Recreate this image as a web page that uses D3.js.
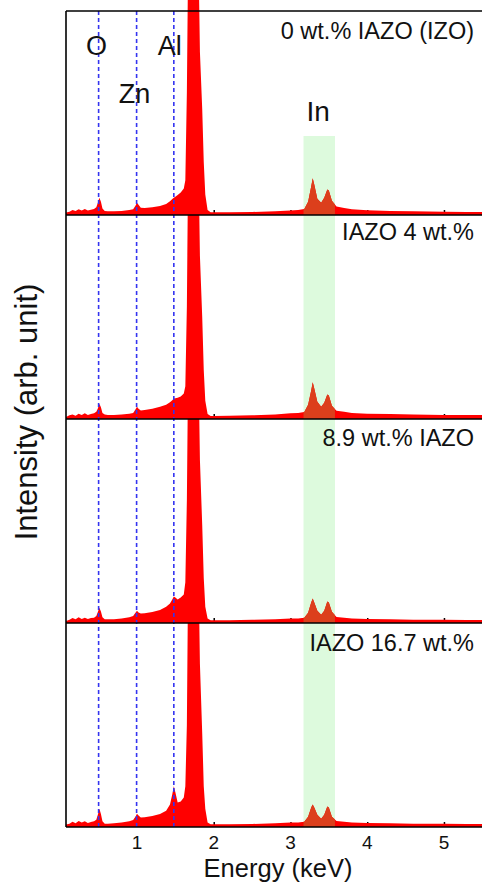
<!DOCTYPE html>
<html>
<head>
<meta charset="utf-8">
<script src="https://cdn.jsdelivr.net/npm/d3@7"></script>
<style>
  body { margin: 0; background: #fff; }
  svg { display: block; font-family: Arial, "Liberation Sans", sans-serif; }
</style>
</head>
<body>
<div id="chart"></div>
<script>
// energy grid (keV), shared by all four spectra
const energy = [0.075, 0.12, 0.16, 0.2, 0.24, 0.28, 0.32, 0.36, 0.40, 0.44, 0.47, 0.49, 0.51, 0.53, 0.55, 0.58, 0.62, 0.7, 0.8, 0.9,
  0.95, 0.98, 1.0, 1.02, 1.05, 1.1, 1.2, 1.3, 1.38, 1.43, 1.46, 1.48, 1.50, 1.53, 1.57, 1.61, 1.63, 1.65, 1.67, 1.69,
  1.73, 1.78, 1.80, 1.82, 1.85, 1.87, 1.89, 1.92, 1.96, 2.0, 2.2, 2.5, 2.8, 3.0, 3.1, 3.18, 3.23, 3.27, 3.29, 3.31,
  3.35, 3.40, 3.44, 3.48, 3.50, 3.54, 3.60, 3.7, 3.8, 4.0, 4.3, 4.6, 5.0, 5.3, 5.6];

// intensities (arb. unit, 100 = full panel)
const izo0 = [1.2, 1.6, 2.4, 2.0, 2.8, 2.2, 3.0, 2.2, 2.6, 3.0, 3.8, 6.0, 8.5, 6.5, 3.2, 2.0, 1.8, 1.8, 2.0, 2.4,
  2.8, 4.5, 6.0, 5.0, 3.6, 3.4, 3.8, 4.4, 5.4, 6.8, 7.8, 8.4, 9.0, 9.8, 11.0, 13.0, 17.0, 60, 140, 260,
  300, 260, 130, 80, 52, 26, 10, 2.5, 1.4, 1.3, 1.3, 1.5, 1.8, 2.2, 2.5, 3.0, 6.5, 14, 18, 15,
  8.0, 6.0, 8.5, 12.5, 12, 7.0, 4.2, 3.4, 2.8, 2.3, 2.0, 1.8, 1.6, 1.5, 1.5];
const iazo4 = [1.0, 1.8, 2.2, 1.6, 2.6, 2.0, 2.8, 2.0, 2.4, 2.8, 3.5, 5.2, 7.5, 5.8, 3.0, 2.2, 2.0, 2.0, 2.2, 2.6,
  3.0, 4.6, 6.0, 5.0, 4.2, 4.4, 5.0, 6.0, 7.0, 8.2, 9.2, 10.0, 10.2, 10.4, 11.0, 12.5, 16.0, 55, 140, 260,
  300, 260, 130, 80, 50, 24, 9, 2.5, 1.5, 1.5, 1.6, 1.8, 2.2, 2.8, 3.0, 3.4, 7.0, 14, 18, 15,
  8.5, 6.0, 8.0, 12, 11.5, 6.5, 4.0, 3.6, 3.0, 2.6, 2.4, 2.2, 2.0, 2.0, 2.0];
const iazo89 = [1.0, 1.6, 2.4, 1.8, 2.8, 2.0, 2.6, 2.0, 2.4, 2.6, 3.4, 5.4, 7.5, 5.6, 2.8, 1.8, 1.8, 1.8, 2.2, 2.8,
  3.4, 5.0, 6.0, 5.2, 4.6, 4.8, 5.4, 6.4, 8.0, 9.5, 11.5, 13.0, 12.5, 11.5, 12.5, 14.0, 20.0, 60, 140, 260,
  300, 260, 130, 80, 48, 22, 8, 2.2, 1.4, 1.4, 1.4, 1.6, 1.8, 2.2, 2.2, 2.6, 5.0, 10, 12, 10,
  6.0, 4.0, 6.0, 10.5, 10, 5.5, 3.0, 2.6, 2.2, 2.0, 1.8, 1.6, 1.6, 1.5, 1.5];
const iazo167 = [1.2, 1.6, 2.6, 1.8, 3.0, 2.2, 2.8, 2.0, 2.4, 2.8, 3.6, 6.0, 9.0, 6.4, 2.8, 1.6, 1.6, 1.8, 2.2, 2.8,
  3.4, 5.0, 6.5, 5.6, 4.6, 4.8, 5.4, 6.4, 8.0, 11.0, 16.0, 20.0, 17.0, 12.0, 12.5, 14.5, 20.0, 50, 140, 260,
  300, 260, 130, 80, 46, 20, 9, 2.2, 1.4, 1.4, 1.4, 1.5, 1.8, 2.2, 2.2, 2.6, 5.0, 9.5, 11, 9.5,
  6.0, 4.0, 6.0, 10, 9.5, 5.0, 3.0, 2.6, 2.2, 2.0, 1.8, 1.6, 1.6, 1.5, 1.5];

const spectra = [izo0, iazo4, iazo89, iazo167];
const panelTitles = ["0 wt.% IAZO (IZO)", "IAZO 4 wt.%", "8.9 wt.% IAZO", "IAZO 16.7 wt.%"];
const elementEnergy = [0.5, 0.995, 1.48];
const elementNames = ["O", "Zn", "Al"];
const inBand = [3.17, 3.58];
const xTicks = [1, 2, 3, 4, 5];

const W = 482, H = 883;
const plotLeft = 66, plotRight = 490, plotTop = 11, panelH = 204;
const plotBottom = plotTop + panelH * spectra.length;
const titleDy = [28, 25, 27, 28];

const svg = d3.select("#chart").append("svg")
  .attr("width", W)
  .attr("height", H);

const x = d3.scaleLinear().domain([0.075, 5.6]).range([plotLeft, plotRight]);

// green band behind In peaks
svg.append("rect")
  .attr("x", x(inBand[0]))
  .attr("y", 136)
  .attr("width", x(inBand[1]) - x(inBand[0]))
  .attr("height", plotBottom - 136)
  .attr("fill", "#ddfadd");

const defs = svg.append("defs");

spectra.forEach((vals, i) => {
  const pTop = plotTop + i * panelH;
  const pBot = pTop + panelH;
  const y = d3.scaleLinear().domain([0, 100]).range([pBot, pTop]);
  const clipTop = i === 0 ? 0 : pTop;

  defs.append("clipPath").attr("id", "clip" + i)
    .append("rect")
    .attr("x", plotLeft).attr("y", clipTop)
    .attr("width", plotRight - plotLeft).attr("height", pBot - clipTop);
  defs.append("clipPath").attr("id", "band" + i)
    .append("rect")
    .attr("x", x(inBand[0])).attr("y", clipTop)
    .attr("width", x(inBand[1]) - x(inBand[0])).attr("height", pBot - clipTop);

  const g = svg.append("g");

  // small inward ticks, partly hidden by the fill
  g.append("g")
    .attr("transform", `translate(0,${pBot})`)
    .call(d3.axisBottom(x).tickValues(xTicks).tickSize(-5).tickFormat(""))
    .call(a => a.select(".domain").remove())
    .call(a => a.selectAll("line").attr("stroke", "#000").attr("stroke-width", 1.5));

  const data = energy.map((e, k) => [e, vals[k]]);
  const area = d3.area()
    .x(d => x(d[0]))
    .y0(pBot)
    .y1(d => y(d[1]));

  g.append("path")
    .attr("d", area(data))
    .attr("fill", "#ff0000")
    .attr("clip-path", `url(#clip${i})`);

  // darker tint where the red sits under the green band
  g.append("path")
    .attr("d", area(data))
    .attr("fill", "#dc3f1c")
    .attr("clip-path", `url(#band${i})`);

  g.append("text")
    .attr("x", 474)
    .attr("y", pTop + titleDy[i])
    .attr("text-anchor", "end")
    .attr("font-size", 23.5)
    .attr("fill", "#111")
    .text(panelTitles[i]);
});

// dashed element lines
svg.append("g").selectAll("line")
  .data(elementEnergy)
  .join("line")
  .attr("x1", d => x(d)).attr("x2", d => x(d))
  .attr("y1", plotTop).attr("y2", plotBottom)
  .attr("stroke", "#3434f0")
  .attr("stroke-width", 1.6)
  .attr("stroke-dasharray", "4,3");

// element labels
const labelPos = [[-2, 55], [-2, 103], [-4, 55]];
svg.append("g").selectAll("text")
  .data(elementNames)
  .join("text")
  .attr("x", (d, k) => x(elementEnergy[k]) + labelPos[k][0])
  .attr("y", (d, k) => labelPos[k][1])
  .attr("text-anchor", "middle")
  .attr("font-size", 27)
  .attr("fill", "#111")
  .text(d => d);

svg.append("text")
  .attr("x", (x(inBand[0]) + x(inBand[1])) / 2 - 1)
  .attr("y", 121)
  .attr("text-anchor", "middle")
  .attr("font-size", 28)
  .attr("fill", "#111")
  .text("In");

// panel frame lines
const frame = svg.append("g").attr("stroke", "#000").attr("stroke-width", 1.6);
d3.range(spectra.length + 1).forEach(i => {
  frame.append("line")
    .attr("x1", plotLeft).attr("x2", plotRight)
    .attr("y1", plotTop + i * panelH).attr("y2", plotTop + i * panelH);
});
frame.append("line")
  .attr("x1", plotLeft).attr("x2", plotLeft)
  .attr("y1", plotTop).attr("y2", plotBottom);

// bottom tick labels
svg.append("g").selectAll("text")
  .data(xTicks)
  .join("text")
  .attr("x", d => x(d))
  .attr("y", plotBottom + 22)
  .attr("text-anchor", "middle")
  .attr("font-size", 19)
  .attr("fill", "#111")
  .text(d => d);

svg.append("text")
  .attr("x", 278)
  .attr("y", 877)
  .attr("text-anchor", "middle")
  .attr("font-size", 25.5)
  .attr("fill", "#111")
  .text("Energy (keV)");

svg.append("text")
  .attr("transform", "translate(37,412) rotate(-90)")
  .attr("text-anchor", "middle")
  .attr("font-size", 31)
  .attr("fill", "#111")
  .text("Intensity (arb. unit)");
</script>
</body>
</html>
